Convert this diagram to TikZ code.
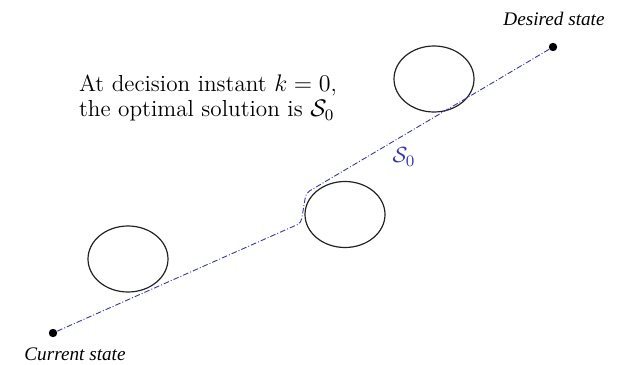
\documentclass[tikz,border=0pt]{standalone}
\usepackage{fontspec}
\usepackage{amsmath}
\usepackage{xcolor}
\usetikzlibrary{shapes.geometric}
\newfontfamily\statefont{Liberation Serif}
\definecolor{trajblue}{HTML}{3434C4}
\definecolor{obstline}{HTML}{222222}

\begin{document}
\begin{tikzpicture}[x=0.5pt,y=0.5pt]
  \useasboundingbox (0,0) rectangle (619,364);
  % obstacles
  \node[draw=obstline, line width=0.6pt, ellipse, inner sep=0pt, minimum width=40pt, minimum height=33pt] (obsa) at (128,105) {};
  \node[draw=obstline, line width=0.6pt, ellipse, inner sep=0pt, minimum width=40pt, minimum height=33pt] (obsb) at (345,149.5) {};
  \node[draw=obstline, line width=0.6pt, ellipse, inner sep=0pt, minimum width=40pt, minimum height=33pt] (obsc) at (434,285) {};
  % start and goal
  \node[circle, fill=black, inner sep=0pt, minimum size=4.2pt] (cur) at (53,31) {};
  \node[circle, fill=black, inner sep=0pt, minimum size=4.2pt] (des) at (553,317) {};
  \node[font=\statefont\itshape\fontsize{9.6}{11}\selectfont] (curlbl) at (75,10) {Current state};
  \node[font=\statefont\itshape\fontsize{9.6}{11}\selectfont] (deslbl) at (554,345) {Desired state};
  % optimal solution
  \coordinate (ka) at (301,141);
  \coordinate (kb) at (306,171);
  \draw[trajblue, line width=0.45pt, rounded corners=2pt, dash pattern=on 2.8pt off 1pt on 0.5pt off 1pt] (cur) -- (ka) -- (kb) -- (des);
  \node[text=trajblue, font=\fontsize{11}{12}\selectfont] (sol) at (404,207) {$\mathcal{S}_0$};
  \node[anchor=west, align=left, font=\fontsize{11.6}{12.6}\selectfont] (info) at (72,266) {At decision instant $k=0$,\\the optimal solution is $\mathcal{S}_0$};
\end{tikzpicture}
\end{document}
